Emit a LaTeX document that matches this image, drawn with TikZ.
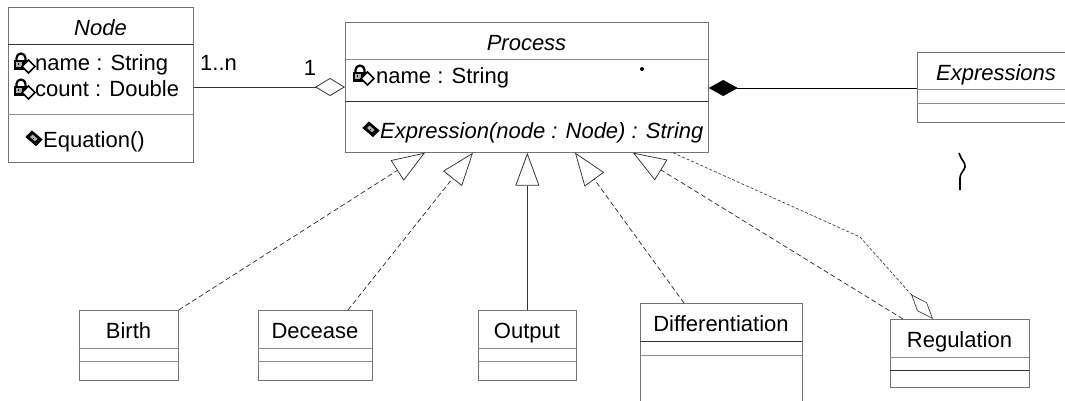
\documentclass[tikz,border=0pt]{standalone}
\usepackage{fontspec}
\setmainfont{Liberation Sans}
\usetikzlibrary{arrows.meta,calc}
\begin{document}
\begin{tikzpicture}[x=1pt,y=-1pt,
  classbox/.style={draw=black!55, line width=0.7pt, fill=white, inner sep=0pt, anchor=north west},
  lbl/.style={font=\fontsize{22}{26}\selectfont, inner sep=0pt},
  ttl/.style={font=\fontsize{22}{26}\selectfont\itshape, inner sep=0pt},
  divlight/.style={draw=black!45, line width=0.7pt},
  divdark/.style={draw=black!80, line width=0.8pt},
  realize/.style={draw=black!85, line width=0.7pt, dash pattern=on 5pt off 3pt,
    -{Triangle[open,length=33pt,width=24pt]}},
  general/.style={draw=black!80, line width=0.8pt, -{Triangle[open,length=33pt,width=24pt]}},
  assoc/.style={draw=black!80, line width=0.8pt},
  aggreg/.style={draw=black!75, line width=0.7pt, dash pattern=on 3pt off 2pt,
    -{Diamond[open,length=33pt,width=13pt]}},
  privattr/.pic={
    \draw[line width=2.2pt] (3.5,10) -- (3.5,7) arc (180:360:4.5) -- (12.5,10);
    \fill[black] (0.5,8.5) rectangle (15.5,18.5);
    \fill[black!30] (3,11) rectangle (8.5,16);
    \fill[black] (4.5,12) rectangle (6,13.5);
    \draw[fill=white, line width=1.6pt] (15.5,9) -- (22,15.5) -- (15.5,22) -- (9,15.5) -- cycle;
  },
  operation/.pic={
    \draw[fill=black, line width=0.8pt] (0,6) -- (6,0) -- (16,8.5) -- (10,14.5) -- cycle;
    \fill[black!30] (4,6) -- (6.5,3.5) -- (11.5,7.8) -- (9,10.3) -- cycle;
    \fill[black] (6.5,6.5) rectangle (8,8);
  }]
\useasboundingbox (0,0) rectangle (1065,400);

% ---- class Node ----
\node[classbox, minimum width=185pt, minimum height=155pt] (nodecls) at (8,7) {};
\node[ttl, anchor=base] (nodecls-t) at (100.5,35) {Node};
\draw[divdark] (8,44) -- (193,44);
\draw[divlight] (8,114) -- (193,114);
\pic at (13,51) {privattr};
\node[lbl, anchor=base west] (nodecls-a1) at (35,70) {name : String};
\pic at (13,77) {privattr};
\node[lbl, anchor=base west] (nodecls-a2) at (35,96) {count : Double};
\pic at (26,131) {operation};
\node[lbl, anchor=base west] (nodecls-o1) at (43,147) {Equation()};

% ---- class Process ----
\node[classbox, minimum width=363pt, minimum height=130pt] (process) at (345,22) {};
\node[ttl, anchor=base] (process-t) at (526.5,50) {Process};
\draw[divlight] (345,59) -- (708,59);
\draw[divdark] (345,101) -- (708,101);
\pic at (352,63) {privattr};
\node[lbl, anchor=base west] (process-a1) at (376,83) {name : String};
\pic at (363,122) {operation};
\node[ttl, anchor=base west] (process-o1) at (380,138) {Expression(node : Node) : String};
\fill (642,69) circle (2pt);

% ---- class Expressions ----
\node[classbox, minimum width=158pt, minimum height=70pt] (expr) at (917,52) {};
\node[ttl, anchor=base] (expr-t) at (996,80.5) {Expressions};
\draw[divlight] (917,89) -- (1075,89);
\draw[divlight] (917,103) -- (1075,103);

% ---- subclasses ----
\node[classbox, minimum width=99pt, minimum height=70pt] (birth) at (79,310) {};
\node[lbl, anchor=base] (birth-t) at (128.5,338) {Birth};
\draw[divlight] (79,348) -- (178,348);
\draw[divlight] (79,361) -- (178,361);

\node[classbox, minimum width=114pt, minimum height=70pt] (decease) at (258,310) {};
\node[lbl, anchor=base] (decease-t) at (315,338) {Decease};
\draw[divlight] (258,348) -- (372,348);
\draw[divlight] (258,361) -- (372,361);

\node[classbox, minimum width=98pt, minimum height=70pt] (output) at (478,310) {};
\node[lbl, anchor=base] (output-t) at (527,338) {Output};
\draw[divlight] (478,348) -- (576,348);
\draw[divlight] (478,361) -- (576,361);

\node[classbox, minimum width=162pt, minimum height=120pt] (diff) at (640,303) {};
\node[lbl, anchor=base] (diff-t) at (721,331) {Differentiation};
\draw[divdark] (640,341) -- (802,341);
\draw[divlight] (640,355) -- (802,355);

\node[classbox, minimum width=139pt, minimum height=68pt] (reg) at (890,319) {};
\node[lbl, anchor=base] (reg-t) at (959.5,347) {Regulation};
\draw[divlight] (890,357) -- (1029,357);
\draw[divdark] (890,370) -- (1029,370);

% ---- associations ----
\draw[assoc, -{Diamond[open,length=30pt,width=18pt]}]
  ($(nodecls.north east)+(0,80)$) -- ($(process.north west)+(0,65)$);
\node[lbl, anchor=base west] (mult-n) at (200,70) {1..n};
\node[lbl, anchor=base] (mult-1) at (310,75) {1};

\draw[assoc, draw=black, -{Diamond[length=29pt,width=16pt]}]
  ($(expr.north west)+(0,36)$) -- ($(process.north east)+(0,66)$);

\coordinate (bend) at (860,237);
\draw[aggreg] ($(process.south west)+(328,0)$) -- (bend) -- ($(reg.north west)+(43,0)$);

% ---- realizations and generalization ----
\draw[realize] (birth.north east) -- ($(process.south west)+(80,0)$);
\draw[realize] ($(decease.north west)+(90,0)$) -- ($(process.south west)+(128,0)$);
\draw[general] (output.north) -- (output.north |- process.south);
\draw[realize] ($(diff.north west)+(44,0)$) -- ($(process.south west)+(230,0)$);
\draw[realize] ($(reg.north west)+(13,0)$) -- ($(process.south west)+(288,0)$);

% stray pen mark at the right
\draw[line width=1.6pt] (959,153) .. controls (961,160) and (966,163) .. (965,167)
  .. controls (964,171) and (960,173) .. (960,178) -- (960,190);
\end{tikzpicture}
\end{document}
